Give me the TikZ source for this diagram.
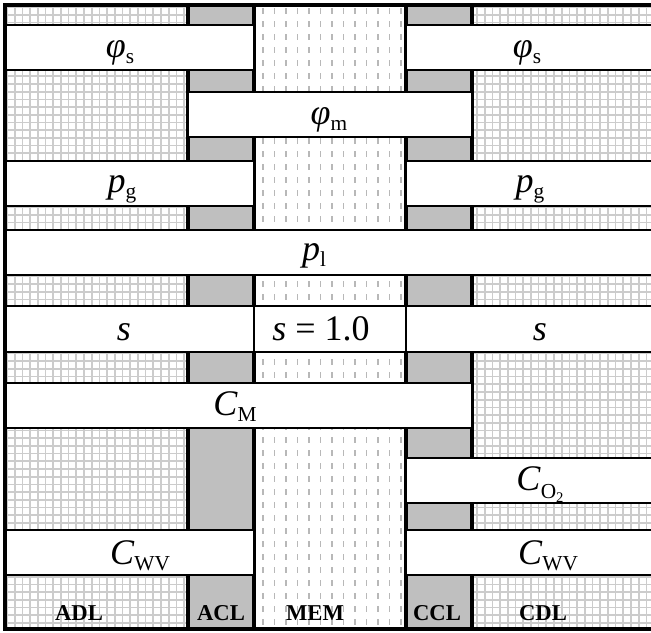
\documentclass[tikz,border=0pt]{standalone}
\usepackage{fontspec}
\setmainfont{Liberation Serif}
\definecolor{gridline}{gray}{0.80}
\definecolor{clfill}{gray}{0.75}
\definecolor{memdash}{gray}{0.72}
% symbol with a roman subscript
\newcommand{\msym}[2]{\textit{#1}\raisebox{-5pt}{\fontsize{16}{16}\selectfont #2}}
\begin{document}
\begin{tikzpicture}[x=0.75pt,y=-0.75pt,
  bar/.style={draw=black,fill=white,line width=1.1pt},
  colline/.style={line width=2.3pt},
  sym/.style={anchor=base,inner sep=0pt,font=\fontsize{27}{30}\selectfont},
  layerlabel/.style={anchor=base,inner sep=0pt,font=\fontsize{17}{19}\selectfont\bfseries},
  gridl/.style={draw=gridline,line width=1.25pt},
  dashl/.style={draw=memdash,line width=1.2pt}]
\useasboundingbox (0,0) rectangle (651,633);
\clip (0,0) rectangle (651,633);

% diffusion layers: square grid
\begin{scope}
  \clip (5,5) rectangle (188,629);
  \fill[white] (5,5) rectangle (188,629);
  \foreach \x in {7,14.7,...,190} \draw[gridl] (\x,5) -- (\x,629);
  \foreach \y in {7,14.7,...,630} \draw[gridl] (5,\y) -- (188,\y);
\end{scope}
\begin{scope}
  \clip (472,5) rectangle (660,629);
  \fill[white] (472,5) rectangle (660,629);
  \foreach \x in {477,484.7,...,660} \draw[gridl] (\x,5) -- (\x,629);
  \foreach \y in {7,14.7,...,630} \draw[gridl] (472,\y) -- (660,\y);
\end{scope}

% catalyst layers: grey
\fill[clfill] (188,5) rectangle (254,629);
\fill[clfill] (406,5) rectangle (472,629);

% membrane: short vertical dashes
\begin{scope}
  \clip (254,5) rectangle (406,629);
  \fill[white] (254,5) rectangle (406,629);
  \foreach \x in {263,274.5,...,404}
    \foreach \y in {8,21,...,629}
      \draw[dashl] (\x,\y) -- ++(0,6);
\end{scope}

% layer boundaries
\foreach \x in {188,254,406,472} \draw[colline] (\x,5) -- (\x,629);

% variable bars
\draw[bar] (5,25) rectangle (254,70);
\draw[bar] (406,25) rectangle (660,70);
\draw[bar] (188,92) rectangle (472,137);
\draw[bar] (5,161) rectangle (254,206);
\draw[bar] (406,161) rectangle (660,206);
\draw[bar] (5,230) rectangle (660,275);
\draw[bar] (5,306) rectangle (660,352);
\draw[bar] (254,306) rectangle (406,352);
\draw[bar] (5,383) rectangle (472,428);
\draw[bar] (406,458) rectangle (660,503);
\draw[bar] (5,530) rectangle (254,575);
\draw[bar] (406,530) rectangle (660,575);

% labels of the variables
\node[sym] (phisL) at (120,57) {\msym{φ}{s}};
\node[sym] (phisR) at (527,57) {\msym{φ}{s}};
\node[sym] (phim)  at (329,124) {\msym{φ}{m}};
\node[sym] (pgL)   at (122,192) {\msym{p}{g}};
\node[sym] (pgR)   at (530,192) {\msym{p}{g}};
\node[sym] (pl)    at (314,260) {\msym{p}{l}};
\node[sym] (sL)    at (124,340) {\textit{s}};
\node[sym] (sM)    at (321,340) {\textit{s} = 1.0};
\node[sym] (sR)    at (540,340) {\textit{s}};
\node[sym] (cm)    at (235,415) {\msym{C}{M}};
\node[sym] (co2)   at (540,490) {\textit{C}\raisebox{-6pt}{\fontsize{16}{16}\selectfont O\raisebox{-3pt}{\fontsize{11}{11}\selectfont 2}}};
\node[sym] (cwvL)  at (140,564) {\msym{C}{WV}};
\node[sym] (cwvR)  at (548,564) {\msym{C}{WV}};

% layer names
\node[layerlabel] (adl) at (79,620) {ADL};
\node[layerlabel] (acl) at (221,620) {ACL};
\node[layerlabel] (mem) at (315,620) {MEM};
\node[layerlabel] (ccl) at (437,620) {CCL};
\node[layerlabel] (cdl) at (543,620) {CDL};

% outer frame
\draw[line width=2.5pt] (5,5) rectangle (660,629);
\end{tikzpicture}
\end{document}
